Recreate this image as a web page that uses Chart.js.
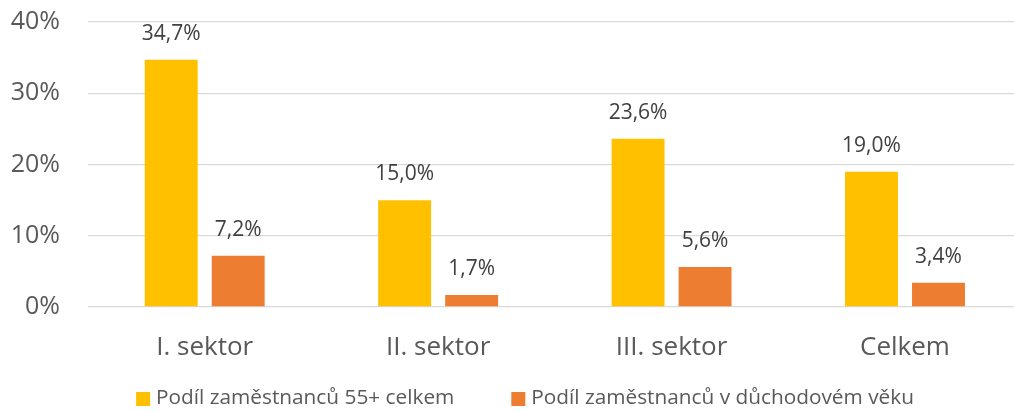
<!DOCTYPE html>
<html>
<head>
<meta charset="utf-8">
<script src="https://cdn.jsdelivr.net/npm/chart.js@4"></script>
<style>
  html, body { margin: 0; padding: 0; background: #fff; }
  #wrap { width: 1014px; height: 411px; position: relative; }
</style>
</head>
<body>
<div id="wrap"><canvas id="c" width="1014" height="411"></canvas></div>
<script>
const categories = ['I. sektor', 'II. sektor', 'III. sektor', 'Celkem'];
const share55 = [34.7, 15.0, 23.6, 19.0];
const shareRetire = [7.2, 1.7, 5.6, 3.4];
const seriesNames = ['Podíl zaměstnanců 55+ celkem', 'Podíl zaměstnanců v důchodovém věku'];
const yTicks = [0, 10, 20, 30, 40];

const FONT = 'Open Sans';

function fmt(v) {
  return v.toFixed(1).replace('.', ',') + '%';
}

// bars sit on category index positions 0..n-1
const asPoints = arr => arr.map((v, i) => ({ x: i, y: v }));

// Writes each bar's value above it
const valueLabels = {
  id: 'valueLabels',
  afterDatasetsDraw(chart) {
    const ctx = chart.ctx;
    ctx.save();
    ctx.font = '21px "' + FONT + '"';
    ctx.fillStyle = '#404040';
    ctx.textAlign = 'center';
    ctx.textBaseline = 'middle';
    chart.data.datasets.forEach((ds, i) => {
      chart.getDatasetMeta(i).data.forEach((bar, j) => {
        ctx.fillText(fmt(ds.data[j].y), bar.x, bar.y - 26);
      });
    });
    ctx.restore();
  }
};

// Single-row legend under the axis: square swatch, short gap, series name
const legendRow = {
  id: 'legendRow',
  afterDraw(chart) {
    const ctx = chart.ctx;
    const box = 14, gapText = 6, gapItem = 57, centerX = 525, centerY = 398;
    ctx.save();
    ctx.font = '20.8px "' + FONT + '"';
    ctx.textBaseline = 'middle';
    ctx.textAlign = 'left';
    const items = chart.data.datasets.map(ds => ({
      text: ds.label, color: ds.backgroundColor, w: ctx.measureText(ds.label).width
    }));
    const total = items.reduce((s, it) => s + box + gapText + it.w, 0) + gapItem * (items.length - 1);
    let x = centerX - total / 2;
    items.forEach(it => {
      ctx.fillStyle = it.color;
      ctx.fillRect(x, centerY - box / 2 + 1, box, box);
      ctx.fillStyle = '#595959';
      ctx.fillText(it.text, x + box + gapText, centerY);
      x += box + gapText + it.w + gapItem;
    });
    ctx.restore();
  }
};

new Chart(document.getElementById('c'), {
  type: 'bar',
  data: {
    datasets: [
      { label: seriesNames[0], data: asPoints(share55), backgroundColor: '#FFC000' },
      { label: seriesNames[1], data: asPoints(shareRetire), backgroundColor: '#ED7D31' }
    ]
  },
  plugins: [valueLabels, legendRow],
  options: {
    responsive: false,
    animation: false,
    devicePixelRatio: 1,
    layout: { padding: { top: 22, right: 0, left: 0, bottom: 43 } },
    datasets: { bar: { categoryPercentage: 0.574, barPercentage: 0.79 } },
    plugins: {
      tooltip: { enabled: false },
      legend: { display: false }
    },
    scales: {
      x: {
        type: 'linear',
        offset: false,
        // the last category slot runs slightly past the right edge
        min: -0.5,
        max: categories.length - 0.533,
        afterBuildTicks(s) { s.ticks = categories.map((c, i) => ({ value: i })); },
        grid: { display: false, drawTicks: false, offset: false },
        border: { display: false },
        ticks: {
          font: { family: FONT, size: 26 },
          color: '#595959',
          padding: 25,
          maxRotation: 0,
          autoSkip: false,
          callback: v => categories[v]
        },
        afterFit(s) { s.height = 61; s.paddingLeft = 0; s.paddingRight = 0; }
      },
      y: {
        min: yTicks[0],
        max: yTicks[yTicks.length - 1],
        afterBuildTicks(s) { s.ticks = yTicks.map(v => ({ value: v })); },
        grid: { color: '#D9D9D9', lineWidth: 1.3, drawTicks: false },
        border: { display: false },
        ticks: {
          font: { family: FONT, size: 25 },
          color: '#595959',
          padding: 28,
          callback: v => v + '%'
        },
        afterFit(s) { s.width = 88; s.paddingTop = 0; s.paddingBottom = 0; }
      }
    }
  }
});
</script>
</body>
</html>
